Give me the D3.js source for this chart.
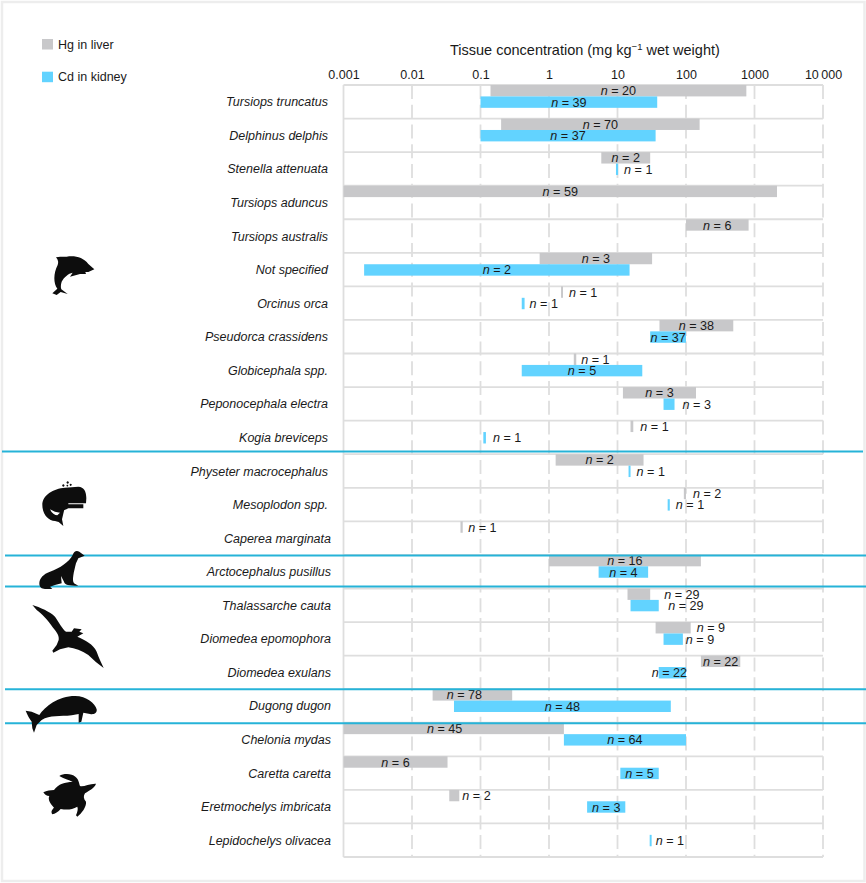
<!DOCTYPE html>
<html>
<head>
<meta charset="utf-8">
<script src="https://d3js.org/d3.v7.min.js"></script>
<style>
    html, body { margin: 0; padding: 0; background: #fff; }
    svg { display: block; font-family: "Liberation Sans", Arial, sans-serif; fill: #1a1a1a; }
    .tick-label { font-size: 12.5px; }
    .species { font-size: 12.5px; font-style: italic; }
    .count { font-size: 12.6px; }
    .count .n { font-style: italic; }
</style>
</head>
<body>
<div class="chart"></div>
<script>
const species = ['Tursiops truncatus', 'Delphinus delphis', 'Stenella attenuata', 'Tursiops aduncus',
    'Tursiops australis', 'Not specified', 'Orcinus orca', 'Pseudorca crassidens', 'Globicephala spp.',
    'Peponocephala electra', 'Kogia breviceps', 'Physeter macrocephalus', 'Mesoplodon spp.',
    'Caperea marginata', 'Arctocephalus pusillus', 'Thalassarche cauta', 'Diomedea epomophora',
    'Diomedea exulans', 'Dugong dugon', 'Chelonia mydas', 'Caretta caretta', 'Eretmochelys imbricata',
    'Lepidochelys olivacea']

// concentration ranges, null = not reported
const hgLow = [0.14, 0.2, 5.8, 0.001, 100, 0.73, 1.5, 41, 2.3, 12, 15.5, 1.25, 93, 0.051, 1, 14, 36, 165, 0.02, 0.001, 0.001, 0.035, null]
const hgHigh = [760, 158, 30, 2130, 820, 32, 1.6, 490, 2.5, 140, 17, 24, 100, 0.055, 165, 30, 117, 620, 0.29, 1.65, 0.033, 0.049, null]
const hgN = [20, 70, 2, 59, 6, 3, 1, 38, 1, 3, 1, 2, 2, 1, 16, 29, 9, 22, 78, 45, 6, 2, null]
const cdLow = [0.1, 0.1, 9.5, null, null, 0.002, 0.4, 30, 0.4, 47, 0.11, 14.5, 54, null, 5.3, 15.5, 47, 40, 0.041, 1.65, 11, 3.6, 29.5]
const cdHigh = [38, 36, 10.2, null, null, 15, 0.44, 100, 23, 68, 0.12, 15.5, 58, null, 28, 40, 90, 100, 60, 100, 40, 13, 31.5]
const cdN = [39, 37, 1, null, null, 2, 1, 37, 5, 3, 1, 1, 1, null, 4, 29, 9, 22, 48, 64, 5, 3, 1]

const tickValues = [0.001, 0.01, 0.1, 1, 10, 100, 1000, 10000]
const tickLabels = ['0.001', '0.01', '0.1', '1', '10', '100', '1000', '10\u2009000']
const legendLabels = ['Hg in liver', 'Cd in kidney']

// groups end under these species, the line is drawn a touch above the row edge for some
const groupEnds = ['Kogia breviceps', 'Caperea marginata', 'Arctocephalus pusillus', 'Diomedea exulans', 'Dugong dugon']

const colors = {hg: '#c8c8ca', cd: '#62d3ff', grid: '#dedede', divider: '#26b3d8', frame: '#ededed'}

// count labels sitting beside their bar: gap after the bar end, in px
const besideGap = {
    'Stenella attenuata|cd': 6, 'Orcinus orca|hg': 6, 'Orcinus orca|cd': 5, 'Globicephala spp.|hg': 5,
    'Peponocephala electra|cd': 8, 'Kogia breviceps|hg': 7, 'Kogia breviceps|cd': 7,
    'Physeter macrocephalus|cd': 6, 'Mesoplodon spp.|hg': 7, 'Mesoplodon spp.|cd': 6,
    'Caperea marginata|hg': 5.5, 'Thalassarche cauta|hg': 14, 'Thalassarche cauta|cd': 9.5,
    'Diomedea epomophora|hg': 6, 'Diomedea epomophora|cd': 3, 'Eretmochelys imbricata|hg': 3,
    'Lepidochelys olivacea|cd': 4
}
// centred labels that were moved off the bar centre
const centreNudge = {'Dugong dugon|hg': -8, 'Chelonia mydas|hg': -9, 'Diomedea exulans|cd': -3}

const width = 866
const height = 883
const margin = {top: 85, right: 43, bottom: 26, left: 343.5}

const x = d3.scaleLog().domain([0.001, 10000]).range([margin.left, width - margin.right])
const y = d3.scaleBand().domain(species).range([margin.top, height - margin.bottom])
const inner = d3.scaleBand().domain(['hg', 'cd']).range([0, y.bandwidth() * 0.68])

const svg = d3.select('.chart').append('svg')
    .attr('width', width)
    .attr('height', height)

svg.append('rect')
    .attr('x', 2).attr('y', 2)
    .attr('width', 862.5).attr('height', 879)
    .attr('fill', 'none')
    .attr('stroke', colors.frame)
    .attr('stroke-width', 2.5)

drawGrid()
drawAxis()
drawBars()
drawSpeciesLabels()
drawLegend()
drawTitle()
drawDividers()
drawIcons()

function drawGrid() {
    let grid = svg.append('g').attr('fill', 'none').attr('stroke', colors.grid).attr('stroke-width', 1.8)
    let rowEdges = species.map(d => y(d)).concat(y.range()[1])

    grid.selectAll('.row-line')
        .data(rowEdges)
        .join('line')
            .attr('class', 'row-line')
            .attr('x1', x.range()[0])
            .attr('x2', x.range()[1])
            .attr('y1', d => d)
            .attr('y2', d => d)

    grid.selectAll('.decade-line')
        .data(tickValues)
        .join('line')
            .attr('class', 'decade-line')
            .attr('x1', d => x(d))
            .attr('x2', d => x(d))
            .attr('y1', y.range()[0])
            .attr('y2', y.range()[1])
            .attr('stroke-dasharray', (d, i) => i == 0 ? null : '14 5.74')
}

function drawAxis() {
    let axis = d3.axisTop(x)
        .tickValues(tickValues)
        .tickFormat((d, i) => tickLabels[i])
        .tickSize(0)
        .tickPadding(0)

    let g = svg.append('g')
        .attr('transform', `translate(0, 79)`)
        .call(axis)
    g.select('.domain').remove()
    g.selectAll('text')
        .attr('class', 'tick-label')
        .attr('font-family', null)
        .attr('font-size', null)
        .attr('fill', '#1a1a1a')
}

function drawBars() {
    let rows = []
    species.forEach((name, i) => {
        rows.push({name, key: 'hg', low: hgLow[i], high: hgHigh[i], n: hgN[i]})
        rows.push({name, key: 'cd', low: cdLow[i], high: cdHigh[i], n: cdN[i]})
    })
    rows = rows.filter(d => d.low !== null)

    svg.append('g').selectAll('rect')
        .data(rows)
        .join('rect')
            .attr('x', d => x(d.low))
            .attr('y', d => y(d.name) + inner(d.key))
            .attr('width', d => x(d.high) - x(d.low))
            .attr('height', inner.bandwidth())
            .attr('fill', d => colors[d.key])

    let labels = svg.append('g').selectAll('text')
        .data(rows)
        .join('text')
            .attr('class', 'count')
            .attr('y', d => y(d.name) + inner(d.key) + inner.bandwidth() / 2)
            .attr('dy', '0.36em')
            .attr('x', d => {
                let id = d.name + '|' + d.key
                if (id in besideGap) return x(d.high) + besideGap[id]
                return (x(d.low) + x(d.high)) / 2 + (centreNudge[id] || 0)
            })
            .attr('text-anchor', d => (d.name + '|' + d.key) in besideGap ? 'start' : 'middle')

    labels.append('tspan').attr('class', 'n').text('n')
    labels.append('tspan').text(d => ` = ${d.n}`)
}

function drawSpeciesLabels() {
    svg.append('g').selectAll('text')
        .data(species)
        .join('text')
            .attr('class', 'species')
            .attr('x', (d, i) => i < 13 ? 328 : 331)
            .attr('y', d => y(d) + y.bandwidth() / 2)
            .attr('dy', '0.36em')
            .attr('text-anchor', 'end')
            .text(d => d)
}

function drawLegend() {
    let items = svg.append('g').selectAll('g')
        .data(['hg', 'cd'])
        .join('g')
            .attr('transform', (d, i) => `translate(42, ${39 + i * 32.7})`)

    items.append('rect')
        .attr('width', 11)
        .attr('height', 10.5)
        .attr('fill', d => colors[d])

    items.append('text')
        .attr('class', 'tick-label')
        .attr('x', 16)
        .attr('y', 5.2)
        .attr('dy', '0.36em')
        .text((d, i) => legendLabels[i])
}

function drawTitle() {
    let title = svg.append('text')
        .attr('x', 450)
        .attr('y', 55)
        .attr('font-size', 14.5)
    title.append('tspan').text('Tissue concentration (mg kg')
    title.append('tspan').attr('font-size', 9.5).attr('dy', -5).text('\u22121')
    title.append('tspan').attr('dy', 5).text(' wet weight)')
}

function drawDividers() {
    let lineY = {'Kogia breviceps': 451.5, 'Caperea marginata': 555.5, 'Arctocephalus pusillus': 586.5,
        'Diomedea exulans': 689.3, 'Dugong dugon': 723.3}
    svg.append('g').selectAll('line')
        .data(groupEnds)
        .join('line')
            .attr('x1', (d, i) => i == 0 ? 2 : 5)
            .attr('x2', (d, i) => i == 0 ? 863 : 866)
            .attr('y1', d => lineY[d])
            .attr('y2', d => lineY[d])
            .attr('stroke', colors.divider)
            .attr('stroke-width', 2)
}

function drawIcons() {
    let icons = [
        {at: [20, 240], d: 'M108 52C120 48 130 52 140 50C165 46 190 52 205 72L223 88L205 96L196 96L198 102L180 102L150 110L158 98C145 100 132 112 125 125C122 135 122 142 124 148L143 162L122 156L110 165L97 160L112 146C100 130 100 100 113 75C116 68 115 60 108 52Z'},
        {at: [0, 440], d: 'M127 195C127 165 160 146 195 143L235 140C252 140 259 155 259 175L258 190L205 190L205 193L250 193L250 205L205 205C195 210 190 212 192 212L186 238L190 258L176 246L165 243C145 243 127 222 127 195ZM150 208C155 220 165 226 172 226L180 218C170 218 160 214 150 208Z'},
        {at: [0, 440], d: 'M190 133a3.5 3.5 0 1 0 .1 0ZM203 124a3.5 3.5 0 1 0 .1 0ZM212 131a3 3 0 1 0 .1 0ZM202 134a2.5 2.5 0 1 0 .1 0Z'},
        {at: [0, 440], d: 'M254 347L238 335C228 330 222 335 218 345C208 365 180 385 150 395C130 402 118 415 118 430C118 442 125 447 135 447L157 447L150 440L165 435L185 430L183 408L192 425C195 435 205 437 235 437L222 430C215 420 222 395 228 370L235 355Z'},
        {at: [0, 440], d: 'M97 495C120 502 150 515 165 530C178 548 185 565 198 575L215 575L222 565L245 568L238 575L250 580L232 590C255 600 280 612 290 635C297 655 305 670 311 684C295 672 280 660 265 645C245 632 225 625 205 622L180 628L160 638L157 632L170 615L176 600C178 590 172 578 158 562C145 542 125 520 110 510Z'},
        {at: [0, 440], d: 'M77 812L95 815L118 825C135 800 175 768 225 768C260 768 285 790 290 808C292 820 280 825 270 822L250 818L244 845L236 848L236 822L215 826C180 830 150 825 125 840L110 855L102 878L97 865L95 845C88 835 82 825 77 812Z'},
        {at: [30, 760], d: 'M88 48C100 40 125 40 136 50C146 58 146 66 150 78C160 82 178 70 198 71C194 84 180 90 165 100C160 108 160 116 168 125C170 140 155 160 142 170L138 166C142 155 145 148 142 140C125 150 110 150 92 147C85 155 75 162 67 163C62 155 65 150 72 143C60 130 53 118 58 108C50 108 44 104 40 97C50 92 62 90 72 90C85 72 105 66 128 66C118 60 100 56 88 48Z'}
    ]
    svg.append('g').selectAll('path')
        .data(icons)
        .join('path')
            .attr('transform', d => `translate(${d.at[0]}, ${d.at[1]}) scale(${1 / 3})`)
            .attr('d', d => d.d)
            .attr('fill', '#0d0d0d')
}
</script>
</body>
</html>
